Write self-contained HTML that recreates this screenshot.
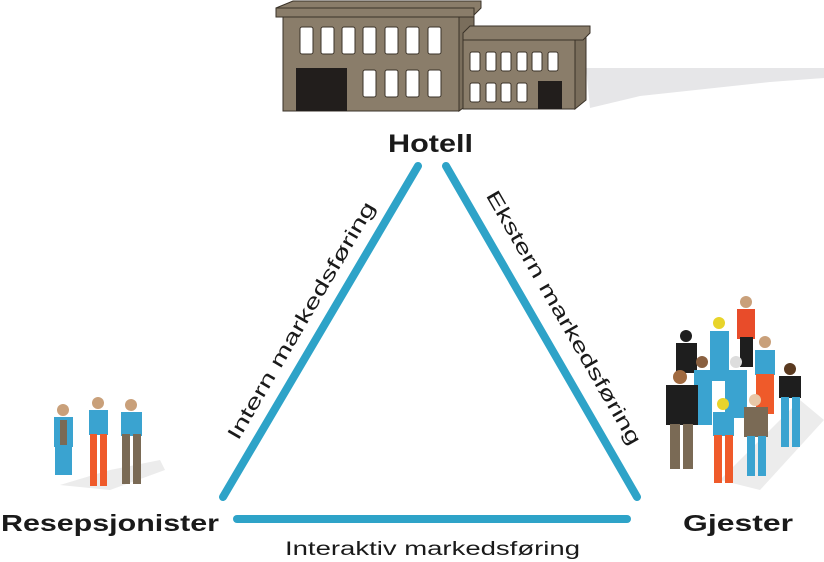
<!DOCTYPE html>
<html><head><meta charset="utf-8"><style>
body{margin:0;background:#fff;}
svg{display:block;}
text{font-family:"Liberation Sans",sans-serif;fill:#1a1a1a;}
</style></head><body>
<svg width="824" height="562" viewBox="0 0 824 562">
<!-- shadow -->
<polygon points="586,68 824,68 824,78 770,82 640,96 590,108" fill="#e6e6e8"/>
<!-- main building -->
<rect x="283" y="17" width="176" height="94" fill="#8a7d6a" stroke="#3a3228" stroke-width="1"/>
<polygon points="459,17 474,9 474,100 459,111" fill="#7a6e5c" stroke="#3a3228"/>
<polygon points="276,8 293,1 481,1 481,8 474,15 276,15" fill="#8a7d6a" stroke="#3a3228"/>
<rect x="276" y="8" width="198" height="9" fill="#8a7d6a" stroke="#3a3228"/>
<g fill="#fff" stroke="#3a3228">
<rect x="300" y="27" width="13" height="27" rx="2"/><rect x="321" y="27" width="13" height="27" rx="2"/><rect x="342" y="27" width="13" height="27" rx="2"/><rect x="363" y="27" width="13" height="27" rx="2"/><rect x="385" y="27" width="13" height="27" rx="2"/><rect x="406" y="27" width="13" height="27" rx="2"/><rect x="428" y="27" width="13" height="27" rx="2"/>
<rect x="363" y="70" width="13" height="27" rx="2"/><rect x="385" y="70" width="13" height="27" rx="2"/><rect x="406" y="70" width="13" height="27" rx="2"/><rect x="428" y="70" width="13" height="27" rx="2"/>
</g>
<rect x="296" y="68" width="51" height="43" fill="#221e1c"/>
<!-- right building -->
<rect x="463" y="40" width="112" height="69" fill="#8a7d6a" stroke="#3a3228"/>
<polygon points="575,40 586,33 586,100 575,109" fill="#7a6e5c" stroke="#3a3228"/>
<polygon points="463,33 470,26 590,26 590,33 583,40 463,40" fill="#8a7d6a" stroke="#3a3228"/>
<g fill="#fff" stroke="#3a3228">
<rect x="470" y="52" width="10" height="19" rx="2"/><rect x="486" y="52" width="10" height="19" rx="2"/><rect x="501" y="52" width="10" height="19" rx="2"/><rect x="517" y="52" width="10" height="19" rx="2"/><rect x="532" y="52" width="10" height="19" rx="2"/><rect x="548" y="52" width="10" height="19" rx="2"/>
<rect x="470" y="83" width="10" height="19" rx="2"/><rect x="486" y="83" width="10" height="19" rx="2"/><rect x="501" y="83" width="10" height="19" rx="2"/><rect x="517" y="83" width="10" height="19" rx="2"/>
</g>
<rect x="538" y="81" width="24" height="28" fill="#221e1c"/>
<!-- triangle -->
<g stroke="#2ea3c8" stroke-width="8" stroke-linecap="round">
<line x1="418" y1="166" x2="223" y2="497"/>
<line x1="446" y1="166" x2="637" y2="497"/>
<line x1="237" y1="519" x2="627" y2="519"/>
</g>
<text x="388" y="152" font-size="25" font-weight="bold" textLength="85" lengthAdjust="spacingAndGlyphs">Hotell</text>
<text x="1" y="531" font-size="23" font-weight="bold" textLength="218" lengthAdjust="spacingAndGlyphs">Resepsjonister</text>
<text x="683" y="531" font-size="23" font-weight="bold" textLength="110" lengthAdjust="spacingAndGlyphs">Gjester</text>
<text x="285" y="555" font-size="19" textLength="295" lengthAdjust="spacingAndGlyphs">Interaktiv markedsføring</text>
<text transform="translate(307,324) rotate(-59.6)" font-size="20" text-anchor="middle" textLength="272" lengthAdjust="spacingAndGlyphs">Intern markedsføring</text>
<text transform="translate(558,321) rotate(60)" font-size="20" text-anchor="middle" textLength="290" lengthAdjust="spacingAndGlyphs">Ekstern markedsføring</text>
<!-- receptionists -->
<g>
<polygon points="60,485 110,470 160,460 165,470 110,490" fill="#ececec"/>
<circle cx="63" cy="410" r="6" fill="#c9a07a"/><rect x="54" y="417" width="19" height="30" fill="#3aa3d0"/><rect x="55" y="445" width="17" height="30" fill="#3aa3d0"/><rect x="60" y="420" width="7" height="25" fill="#7a6a55"/>
<circle cx="98" cy="403" r="6" fill="#c9a07a"/><rect x="89" y="410" width="19" height="25" fill="#3aa3d0"/><rect x="90" y="434" width="7" height="52" fill="#ef5a2a"/><rect x="100" y="434" width="7" height="52" fill="#ef5a2a"/>
<circle cx="131" cy="405" r="6" fill="#c9a07a"/><rect x="121" y="412" width="21" height="24" fill="#3aa3d0"/><rect x="122" y="434" width="8" height="50" fill="#7a6a55"/><rect x="133" y="434" width="8" height="50" fill="#7a6a55"/>
</g>
<!-- guests -->
<g>
<polygon points="720,480 800,400 824,420 760,490" fill="#ececec"/>
<circle cx="746" cy="302" r="6" fill="#c9a07a"/><rect x="737" y="309" width="18" height="30" fill="#e84c2a"/><rect x="740" y="337" width="13" height="30" fill="#1e1e1e"/>
<circle cx="719" cy="323" r="6" fill="#e8d42a"/><rect x="710" y="331" width="19" height="50" fill="#3aa3d0"/>
<circle cx="686" cy="336" r="6" fill="#1e1e1e"/><rect x="676" y="343" width="21" height="30" fill="#1e1e1e"/>
<circle cx="765" cy="342" r="6" fill="#c9a07a"/><rect x="755" y="350" width="20" height="25" fill="#3aa3d0"/><rect x="756" y="374" width="18" height="40" fill="#ef5a2a"/>
<circle cx="702" cy="362" r="6" fill="#8a6040"/><rect x="694" y="370" width="18" height="55" fill="#3aa3d0"/>
<circle cx="736" cy="362" r="6" fill="#ddd"/><rect x="725" y="370" width="22" height="48" fill="#3aa3d0"/>
<circle cx="790" cy="369" r="6" fill="#5a3a20"/><rect x="779" y="376" width="22" height="22" fill="#1e1e1e"/><rect x="781" y="397" width="8" height="50" fill="#3aa3d0"/><rect x="792" y="397" width="8" height="50" fill="#3aa3d0"/>
<circle cx="680" cy="377" r="7" fill="#a06a40"/><rect x="666" y="385" width="32" height="40" fill="#1e1e1e"/><rect x="670" y="424" width="10" height="45" fill="#7a6a55"/><rect x="683" y="424" width="10" height="45" fill="#7a6a55"/>
<circle cx="755" cy="400" r="6" fill="#e8c8a8"/><rect x="744" y="407" width="24" height="30" fill="#7a6a55"/><rect x="747" y="436" width="8" height="40" fill="#3aa3d0"/><rect x="758" y="436" width="8" height="40" fill="#3aa3d0"/>
<circle cx="723" cy="404" r="6" fill="#e8d42a"/><rect x="713" y="412" width="21" height="24" fill="#3aa3d0"/><rect x="714" y="435" width="8" height="48" fill="#ef5a2a"/><rect x="725" y="435" width="8" height="48" fill="#ef5a2a"/>
</g>
</svg>
</body></html>
